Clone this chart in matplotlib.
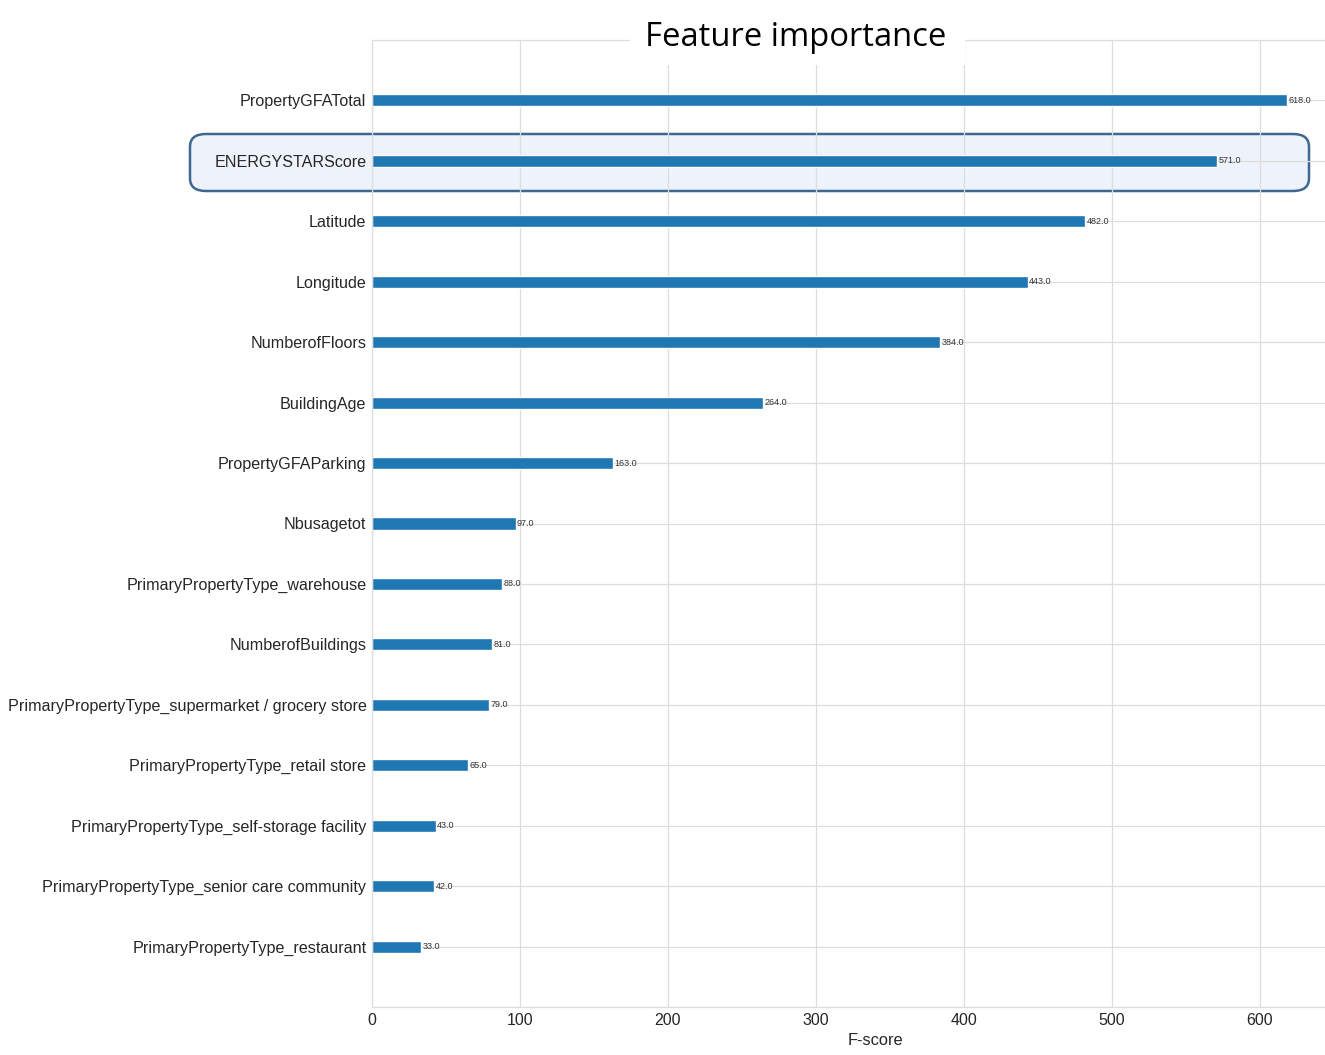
import matplotlib.pyplot as plt
import seaborn as sns
from matplotlib.patches import FancyBboxPatch, Rectangle

features = ["PrimaryPropertyType_restaurant",
            "PrimaryPropertyType_senior care community",
            "PrimaryPropertyType_self-storage facility",
            "PrimaryPropertyType_retail store",
            "PrimaryPropertyType_supermarket / grocery store",
            "NumberofBuildings",
            "PrimaryPropertyType_warehouse",
            "Nbusagetot",
            "PropertyGFAParking",
            "BuildingAge",
            "NumberofFloors",
            "Longitude",
            "Latitude",
            "ENERGYSTARScore",
            "PropertyGFATotal"]
scores = [33, 42, 43, 65, 79, 81, 88, 97, 163, 264, 384, 443, 482, 571, 618]
xticks = [0, 100, 200, 300, 400, 500, 600]

sns.set_style("whitegrid")
plt.rcParams['font.family'] = ['Liberation Sans', 'DejaVu Sans']

W, H = 1325, 1055
fig = plt.figure(figsize=(W / 100, H / 100), dpi=100)
# axes spills past the right edge, like the cropped original
ax = fig.add_axes([372 / W, 1 - 1007 / H, (1378 - 372) / W, (1007 - 40) / H])
ax.set_facecolor("none")

ypos = list(range(len(features)))
ax.barh(ypos, scores, height=0.2, color="#1f77b4", zorder=2)
for y, v in zip(ypos, scores):
    ax.text(v + 1, y, f"{float(v)}", va="center", fontsize=6.5, color="#333333", zorder=3)

ax.set_xlim(0, max(scores) * 1.1)
ax.set_ylim(-1, len(features))
ax.set_yticks(ypos)
ax.set_yticklabels(features, fontsize=11.6, color="#262626")
ax.set_xticks(xticks)
ax.set_xticklabels([str(t) for t in xticks], fontsize=11.5, color="#262626")
ax.set_xlabel("F-score", fontsize=11.8, color="#262626", labelpad=4)
ax.tick_params(length=0, pad=4)
ax.grid(True, color="#dddddd", linewidth=0.9, zorder=0)
ax.set_axisbelow(True)
for s in ax.spines.values():
    s.set_color("#dddddd")
    s.set_linewidth(0.9)

# highlight around the second feature
hl = FancyBboxPatch((190 / W, 1 - 191 / H), (1309 - 190) / W, (191 - 134) / H,
                    boxstyle="round,pad=0,rounding_size=0.012",
                    transform=fig.transFigure, facecolor="#eef3fb",
                    edgecolor="#3e6890", linewidth=1.8, zorder=-1)
fig.patches.append(hl)

# title pasted over the top of the axes
fig.patches.append(Rectangle((630 / W, 1 - 65 / H), (965 - 630) / W, 45 / H,
                             transform=fig.transFigure, facecolor="white",
                             edgecolor="none", zorder=5))
fig.text(796 / W, 1 - 38 / H, "Feature importance", ha="center", va="center",
         fontsize=23.6, family="Open Sans", color="black", zorder=6)

fig.savefig("out.png", dpi=100)
